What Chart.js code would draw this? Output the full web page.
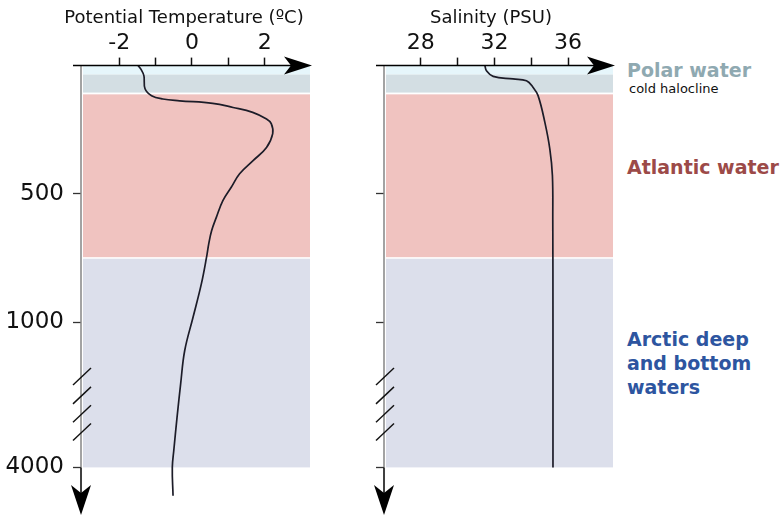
<!DOCTYPE html>
<html>
<head>
<meta charset="utf-8">
<script src="https://cdn.jsdelivr.net/npm/chart.js@4"></script>
<style>
  body { margin: 0; background: #fff; width: 784px; height: 516px; position: relative; overflow: hidden; font-family: "DejaVu Sans", sans-serif; }
  #wrapT { position: absolute; left: 0; top: 0; width: 368px; height: 516px; }
  #wrapS { position: absolute; left: 360px; top: 0; width: 262px; height: 516px; }
  .lbl { position: absolute; left: 627px; font-weight: bold; font-size: 19px; line-height: 24px; white-space: nowrap; }
</style>
</head>
<body>
<div id="wrapT"><canvas id="tempChart"></canvas></div>
<div id="wrapS"><canvas id="salChart"></canvas></div>
<div class="lbl" style="top:58px;color:#8fa9b1">Polar water</div>
<div style="position:absolute;left:629px;top:81px;font-size:13px;line-height:15px;color:#111">cold halocline</div>
<div class="lbl" style="top:155px;color:#9c4a48">Atlantic water</div>
<div class="lbl" style="top:327px;color:#2d55a0">Arctic deep<br>and bottom<br>waters</div>
<script>
const FONT = '"DejaVu Sans", sans-serif';

// depth axis: 0-1000 m linear, below 1000 m squeezed (axis break)
const BREAK_DEPTH = 1000;
const SQUEEZE = 0.1882;
function axisDepth(d) {
  return d <= BREAK_DEPTH ? d : BREAK_DEPTH + (d - BREAK_DEPTH) * SQUEEZE;
}
const Y_MAX = 1750;

// Data
const depthTicks = [500, 1000, 4000];

const tempDepth  = [0, 15, 40, 90, 117, 130, 137, 147, 163, 182, 208, 226, 265, 319, 370, 421, 474, 526, 591, 643, 695, 747, 849, 980, 1586, 2268, 2966, 3655, 4000, 4586];
const tempValues = [-1.48, -1.40, -1.32, -1.29, -1.11, -0.80, -0.34, 0.57, 1.13, 1.67, 2.05, 2.18, 2.22, 2.05, 1.68, 1.31, 1.08, 0.85, 0.67, 0.54, 0.46, 0.40, 0.26, 0.03, -0.20, -0.31, -0.41, -0.50, -0.54, -0.52];

const salDepth  = [0, 20, 42, 52, 59, 85, 117, 221, 325, 429, 600, 1000, 4000];
const salValues = [31.48, 31.57, 31.93, 33.01, 33.74, 34.10, 34.37, 34.74, 35.01, 35.15, 35.17, 35.18, 35.18];

const tempTicks = [-2, -1, 0, 1, 2];
const tempTickLabels = ['-2', '', '0', '', '2'];
const salTicks = [28, 30, 32, 34, 36];
const salTickLabels = ['28', '', '32', '', '36'];

// water mass layers (m)
const layerTop    = [0, 35, 112, 752];
const layerBottom = [35, 105, 746, 4000];
const layerColors = ['#e6f6fb', '#d3dee3', '#f0c3c0', '#dcdfeb'];

// axis break slashes (depth, m)
const breakMarks = [2120, 2510, 2890, 3270];

function arrowDown(ctx, x0, tip) {
  ctx.beginPath();
  ctx.moveTo(x0, tip);
  ctx.lineTo(x0 - 10, tip - 30);
  ctx.lineTo(x0, tip - 22);
  ctx.lineTo(x0 + 10, tip - 30);
  ctx.closePath();
  ctx.fill();
}
function arrowRight(ctx, tip, y0) {
  ctx.beginPath();
  ctx.moveTo(tip, y0);
  ctx.lineTo(tip - 28, y0 - 9);
  ctx.lineTo(tip - 21, y0);
  ctx.lineTo(tip - 28, y0 + 9);
  ctx.closePath();
  ctx.fill();
}

const profilePlugin = {
  id: 'profile',
  beforeDatasetsDraw(chart) {
    const { ctx, scales: { x, y } } = chart;
    ctx.save();
    layerTop.forEach((t, i) => {
      const y0 = y.getPixelForValue(axisDepth(t));
      const y1 = y.getPixelForValue(axisDepth(layerBottom[i]));
      ctx.fillStyle = layerColors[i];
      ctx.fillRect(x.left + 2, y0, x.right - x.left - 4, y1 - y0);
    });
    ctx.restore();
  },
  afterDraw(chart) {
    const { ctx, scales: { x, y } } = chart;
    const x0 = x.left, top = y.top;
    const y4000 = y.getPixelForValue(axisDepth(4000));
    ctx.save();
    ctx.lineWidth = 1.5;
    // y axis
    ctx.strokeStyle = '#858585';
    ctx.beginPath(); ctx.moveTo(x0, top); ctx.lineTo(x0, y4000); ctx.stroke();
    ctx.strokeStyle = '#000';
    ctx.beginPath(); ctx.moveTo(x0, y4000); ctx.lineTo(x0, y.bottom - 20); ctx.stroke();
    ctx.fillStyle = '#000';
    arrowDown(ctx, x0, y.bottom);
    // x axis
    ctx.beginPath(); ctx.moveTo(x0 - 8, top); ctx.lineTo(x.right - 20, top); ctx.stroke();
    arrowRight(ctx, x.right, top);
    // break slashes
    ctx.lineWidth = 1.4;
    ctx.strokeStyle = '#111';
    breakMarks.forEach(d => {
      const yc = y.getPixelForValue(axisDepth(d));
      ctx.beginPath();
      ctx.moveTo(x0 - 8, yc + 8.5);
      ctx.lineTo(x0 + 10, yc - 8.5);
      ctx.stroke();
    });
    ctx.restore();
  }
};

function makeChart(id, title, values, depths, xMin, xMax, ticks, tickLabels, yWidth, showYLabels, rightWidth) {
  return new Chart(document.getElementById(id), {
    type: 'scatter',
    data: {
      datasets: [{
        data: values.map((v, i) => ({ x: v, y: axisDepth(depths[i]) })),
        showLine: true,
        borderColor: '#1c1c28',
        borderWidth: 1.7,
        pointRadius: 0,
        tension: 0.4,
        yAxisID: 'y'
      }]
    },
    options: {
      responsive: true,
      maintainAspectRatio: false,
      animation: false,
      layout: { padding: { top: 0, left: 0, right: 0, bottom: 1 } },
      plugins: {
        legend: { display: false },
        tooltip: { enabled: false },
        title: {
          display: true, text: title, color: '#111',
          font: { family: FONT, size: 18, weight: 'normal' },
          padding: { top: 8, bottom: 0 }
        }
      },
      scales: {
        x: {
          type: 'linear', position: 'top', min: xMin, max: xMax,
          afterBuildTicks: s => { s.ticks = ticks.map(v => ({ value: v })); },
          afterFit: s => { s.height = 36; s.paddingLeft = 0; s.paddingRight = 0; },
          ticks: {
            callback: (v, i) => tickLabels[i],
            font: { family: FONT, size: 22 }, color: '#111', padding: 1,
            maxRotation: 0, autoSkip: false
          },
          grid: { drawOnChartArea: false, tickLength: 8, tickColor: '#111', tickWidth: 1.5 },
          border: { display: false }
        },
        y: {
          type: 'linear', position: 'left', reverse: true, min: 0, max: Y_MAX,
          afterBuildTicks: s => { s.ticks = depthTicks.map(d => ({ value: axisDepth(d) })); },
          afterFit: s => { s.width = yWidth; s.paddingTop = 0; s.paddingBottom = 0; },
          ticks: {
            callback: (v, i) => showYLabels ? String(depthTicks[i]) : '',
            font: { family: FONT, size: 23 }, color: '#111', padding: 9, autoSkip: false
          },
          grid: { drawOnChartArea: false, tickLength: 8, tickColor: '#333', tickWidth: 1.3 },
          border: { display: false }
        },
        // empty spacer on the right so the title is centred like the original
        yR: {
          type: 'linear', position: 'right',
          afterFit: s => { s.width = rightWidth; s.paddingTop = 0; s.paddingBottom = 0; },
          ticks: { display: false },
          grid: { display: false, drawTicks: false },
          border: { display: false }
        }
      }
    },
    plugins: [profilePlugin]
  });
}

makeChart('tempChart', 'Potential Temperature (ºC)', tempValues, tempDepth, -3.05, 3.3, tempTicks, tempTickLabels, 81, true, 56);
makeChart('salChart', 'Salinity (PSU)', salValues, salDepth, 26, 38.55, salTicks, salTickLabels, 24, false, 7);
</script>
</body>
</html>
